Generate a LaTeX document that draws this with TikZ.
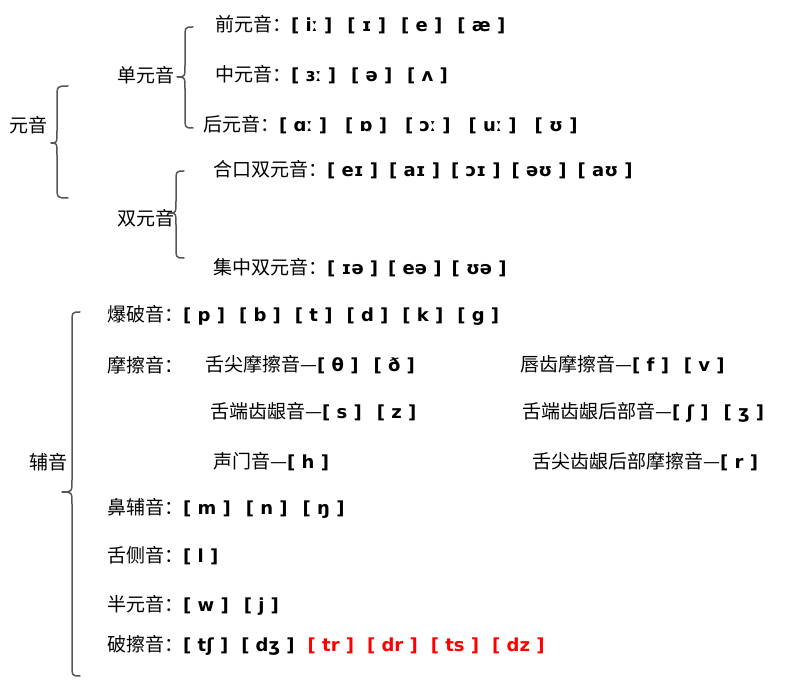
\documentclass[tikz,border=0pt]{standalone}
\usepackage{fontspec}
\newfontfamily\cjk{Noto Sans CJK SC}
\newfontfamily\ipafont{DejaVu Sans}
\definecolor{bracegray}{HTML}{555555}
\definecolor{ipared}{HTML}{FF0000}
\newcommand\ip[1]{{\ipafont\bfseries\fontsize{18}{18}\selectfont #1}}
\newcommand\gp{\hspace{15pt}}
\newcommand\gq[1]{\hspace{#1pt}}
\newcommand\mybrace[6]{%
  \draw[bracestyle] (#1,#4) .. controls (#2,#4) .. (#2,#4+12) -- (#2,#5-12)
    .. controls (#2,#5) .. (#3,#5) .. controls (#2,#5) .. (#2,#5+12)
    -- (#2,#6-12) .. controls (#2,#6) .. (#1,#6);}
\tikzset{
  lab/.style={inner sep=0pt, anchor=west, font=\cjk\fontsize{19}{19}\selectfont},
  bracestyle/.style={draw=bracegray, line width=1.5pt, line join=round, line cap=round},
}
\begin{document}
\begin{tikzpicture}[x=1pt,y=-1pt]
\useasboundingbox[fill=white] (0,0) rectangle (807,700);
% vowels
\node[lab] (yy) at (9,125) {元音};
\mybrace{68}{57}{51}{86}{143}{198}
\node[lab] (dy) at (117,75) {单元音};
\mybrace{193}{185}{177}{27}{77}{128}
\node[lab] (qy) at (215,25) {前元音：\ip{[ iː ]\gp[ ɪ ]\gp[ e ]\gp[ æ ]}};
\node[lab] (zy) at (215,75) {中元音：\ip{[ ɜː ]\gp[ ə ]\gp[ ʌ ]}};
\node[lab] (hy) at (203,125) {后元音：\ip{[ ɑː ]\gq{18}[ ɒ ]\gq{18}[ ɔː ]\gq{18}[ uː ]\gq{18}[ ʊ ]}};
\node[lab] (sy) at (117,218) {双元音};
\mybrace{184}{176}{169}{171}{213}{258}
\node[lab] (hk) at (213,170) {合口双元音：\ip{[ eɪ ]\gq{11}[ aɪ ]\gq{11}[ ɔɪ ]\gq{11}[ əʊ ]\gq{11}[ aʊ ]}};
\node[lab] (jz) at (213,268) {集中双元音：\ip{[ ɪə ]\gq{10}[ eə ]\gq{10}[ ʊə ]}};
% consonants
\node[lab] (fy) at (29,462) {辅音};
\mybrace{80}{72}{62}{312}{492}{676}
\node[lab] (bp) at (107,315) {爆破音：\ip{[ p ]\gq{14}[ b ]\gq{14}[ t ]\gq{14}[ d ]\gq{14}[ k ]\gq{14}[ g ]}};
\node[lab] (mc) at (107,365) {摩擦音：};
\node[lab] (sj) at (205,365) {舌尖摩擦音—\ip{[ θ ]\gp[ ð ]}};
\node[lab] (cc) at (520,365) {唇齿摩擦音—\ip{[ f ]\gp[ v ]}};
\node[lab] (sd) at (210,412) {舌端齿龈音—\ip{[ s ]\gp[ z ]}};
\node[lab] (sh) at (522,412) {舌端齿龈后部音—\ip{[ ʃ ]\gp[ ʒ ]}};
\node[lab] (sm) at (213,462) {声门音—\ip{[ h ]}};
\node[lab] (sr) at (532,462) {舌尖齿龈后部摩擦音—\ip{[ r ]}};
\node[lab] (bf) at (107,508) {鼻辅音：\ip{[ m ]\gp[ n ]\gp[ ŋ ]}};
\node[lab] (sc) at (107,556) {舌侧音：\ip{[ l ]}};
\node[lab] (by) at (107,605) {半元音：\ip{[ w ]\gp[ j ]}};
\node[lab] (pc) at (107,645) {破擦音：\ip{[ tʃ ]\gq{13}[ dʒ ]\gq{13}\textcolor{ipared}{[ tr ]\gq{13}[ dr ]\gq{13}[ ts ]\gq{13}[ dz ]}}};
\end{tikzpicture}
\end{document}
